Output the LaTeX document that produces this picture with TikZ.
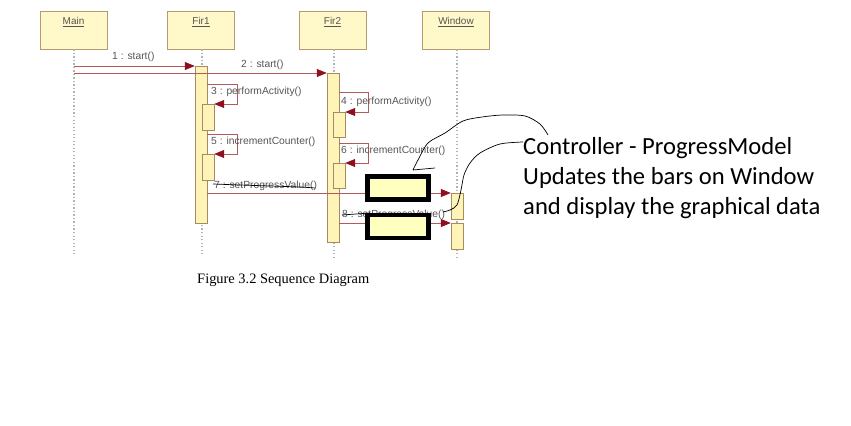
\documentclass[tikz,border=0pt]{standalone}
\usepackage{fontspec}
\setmainfont{Liberation Serif}
\newfontfamily\umlfont{Liberation Sans}
\newfontfamily\notefont{Carlito}
\usepackage{tikz}
\usetikzlibrary{positioning, arrows.meta}
\definecolor{headFill}{HTML}{FFF8C8}
\definecolor{headEdge}{HTML}{B59A70}
\definecolor{barFill}{HTML}{FFF4B8}
\definecolor{barEdge}{HTML}{A88A60}
\definecolor{msgLine}{HTML}{B45A5A}
\definecolor{tipRed}{HTML}{8E1020}
\definecolor{umlText}{HTML}{555555}
\definecolor{hideFill}{HTML}{FFFFC0}

\begin{document}
\begin{tikzpicture}[
    x=0.03cm, y=-0.03cm,
    head/.style={draw=headEdge, fill=headFill, minimum width=2.01cm,
      minimum height=1.14cm, inner sep=0},
    headtxt/.style={font=\umlfont\fontsize{8.5}{10}\selectfont, text=umlText, inner sep=0},
    life/.style={gray!60, line width=1pt, dash pattern=on 1.1pt off 1.9pt},
    bar/.style={draw=barEdge, fill=barFill, minimum width=0.36cm, inner sep=0, anchor=north},
    msg/.style={msgLine, line width=0.6pt,
      -{Triangle[color=tipRed, length=3mm, width=2.4mm]}},
    lbl/.style={font=\umlfont\fontsize{8.8}{10}\selectfont, text=umlText, anchor=west, inner sep=0},
    hidebox/.style={draw=black, line width=4.2pt, fill=hideFill,
      minimum width=1.83cm, minimum height=0.69cm, inner sep=0},
    pen/.style={black, line width=0.6pt}]
    \useasboundingbox (0,0) rectangle (851,426);
    % --- lifeline heads ---
    \def\mx{74} \def\fa{202} \def\fb{334} \def\wx{457}
    \node[head] (mainh) at (73.5,30) {};
    \node[head] (fir1h) at (201,30) {};
    \node[head] (fir2h) at (332.5,30) {};
    \node[head] (winh) at (456,30) {};
    \node[headtxt, below=0.2cm of mainh.north] (mainl) {\underline{Main}};
    \node[headtxt, below=0.2cm of fir1h.north] (fir1l) {\underline{Fir1}};
    \node[headtxt, below=0.2cm of fir2h.north] (fir2l) {\underline{Fir2}};
    \node[headtxt, below=0.2cm of winh.north] (winl) {\underline{Window}};
    % --- lifelines ---
    \coordinate (mainEnd) at (\mx,256);
    \coordinate (fir1End) at (\fa,256);
    \coordinate (fir2End) at (\fb,258);
    \coordinate (winEnd) at (\wx,258);
    \foreach \h/\e in {mainh/mainEnd, fir1h/fir1End, fir2h/fir2End, winh/winEnd}
      \draw[life] (\h.south -| \e) -- (\e);
    % --- activations ---
    \node[bar, minimum height=4.71cm] (act1) at (201,66) {};
    \node[bar, minimum height=0.78cm] (act1a) at (208,104) {};
    \node[bar, minimum height=0.78cm] (act1b) at (208,154) {};
    \node[bar, minimum height=5.07cm] (act2) at (333,73) {};
    \node[bar, minimum height=0.75cm] (act2a) at (339,112) {};
    \node[bar, minimum height=0.75cm] (act2b) at (339,163) {};
    \node[bar, minimum height=0.78cm] (winA) at (457,193) {};
    \node[bar, minimum height=0.78cm] (winB) at (457,223) {};
    % --- messages ---
    \coordinate (m1) at (\mx,66);
    \coordinate (m2) at (\mx,73);
    \draw[msg] (m1) -- (act1.north west);
    \draw[msg] (m2) -- (act2.north west);
    \draw[msg] (act1.east |- 0,84) -- ++(30,0) |- (act1a.north east);
    \draw[msg] (act1.east |- 0,134) -- ++(30,0) |- (act1b.north east);
    \draw[msg] (act2.east |- 0,92) -- ++(29,0) |- (act2a.north east);
    \draw[msg] (act2.east |- 0,143) -- ++(29,0) |- (act2b.north east);
    \draw[msg] (act1.east |- 0,193) -- (winA.north west);
    \draw[msg] (act2.east |- 0,223) -- (winB.north west);
    \node[lbl] (l1) at (112,57) {1 : start()};
    \node[lbl] (l2) at (241,65) {2 : start()};
    \node[lbl] (l3) at (211,92) {3 : performActivity()};
    \node[lbl] (l4) at (341,102) {4 : performActivity()};
    \node[lbl] (l5) at (211,142) {5 : incrementCounter()};
    \node[lbl] (l6) at (341,151) {6 : incrementCounter()};
    \node[lbl] (l7) at (214,186) {7 : setProgressValue()};
    \node[lbl] (l8) at (342,215) {8 : setProgressValue()};
    % --- covering boxes and pen marks ---
    \node[hidebox] (hideA) at (398,188) {};
    \node[hidebox] (hideB) at (398,226.5) {};
    \draw[pen] plot[smooth] coordinates {(213,184) (240,185) (270,186) (300,187) (315,188)};
    \draw[pen] (342,215) -- (370,213);
    \draw[pen] (435,168) -- (413,170) plot[smooth] coordinates {(413,170) (418,160)
      (428,143) (445,133) (463,121) (482,117) (503,115) (525,116) (540,124) (548,135)};
    \draw[pen] plot[smooth] coordinates {(443,212) (450,210) (457,205) (461,190)
      (464,175) (470,163) (480,153) (500,144) (523,142)};
    % --- note and caption ---
    \node[font=\notefont\fontsize{21}{25.5}\selectfont, align=left, anchor=north west,
      inner sep=0] (note) at (523,137)
      {Controller - ProgressModel\\Updates the bars on Window\\and display the graphical data};
    \node[font=\fontsize{12.3}{14}\selectfont, anchor=west, inner sep=0] (cap) at (197,280)
      {Figure 3.2 Sequence Diagram};
  \end{tikzpicture}
\end{document}
